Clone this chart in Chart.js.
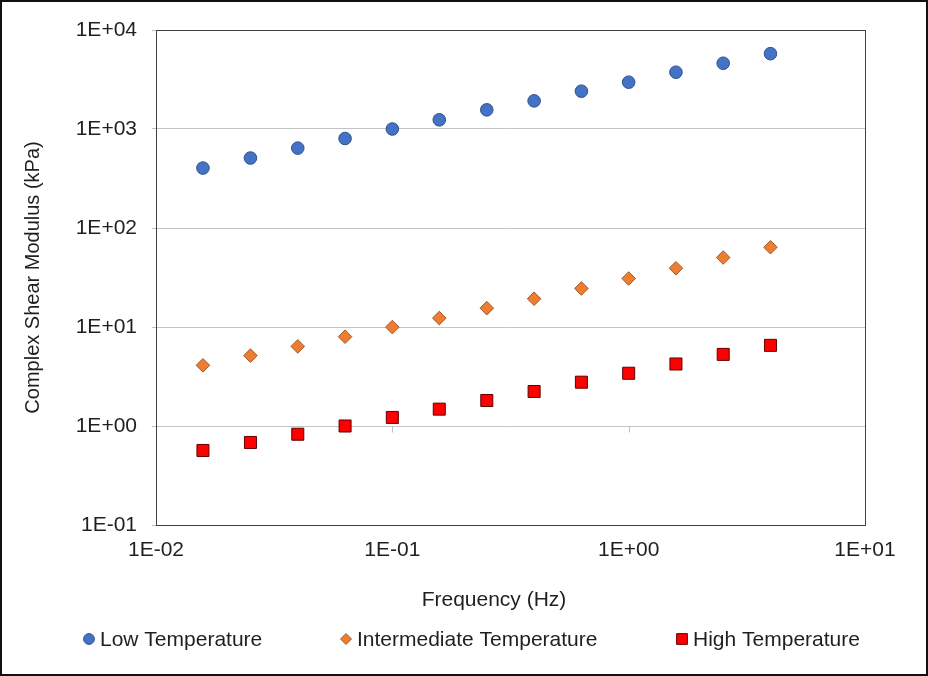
<!DOCTYPE html>
<html>
<head>
<meta charset="utf-8">
<script src="https://cdn.jsdelivr.net/npm/chart.js@4/dist/chart.umd.min.js"></script>
<style>
  html, body { margin: 0; padding: 0; background: #ffffff; }
  #wrap { width: 928px; height: 676px; }
</style>
</head>
<body>
<div id="wrap"><canvas id="c" width="928" height="676"></canvas></div>
<script>
// ---- Data ----
const frequencies = [0.0158, 0.0251, 0.0398, 0.0631, 0.1, 0.158, 0.251, 0.398, 0.631, 1.0, 1.585, 2.512, 3.981];
const lowTemperature = [403, 509, 641, 802, 1000, 1238, 1562, 1923, 2410, 2970, 3748, 4617, 5768];
const intermediateTemperature = [4.10, 5.14, 6.37, 7.98, 9.98, 12.3, 15.5, 19.3, 24.5, 30.9, 39.2, 50.3, 63.9];
const highTemperature = [0.566, 0.682, 0.826, 1.0, 1.22, 1.48, 1.81, 2.23, 2.77, 3.41, 4.23, 5.29, 6.53];
const seriesNames = ['Low Temperature', 'Intermediate Temperature', 'High Temperature'];
const xTickValues = [0.01, 0.1, 1, 10];
const xTickLabels = ['1E-02', '1E-01', '1E+00', '1E+01'];
const yTickValues = [0.1, 1, 10, 100, 1000, 10000];
const yTickLabels = ['1E-01', '1E+00', '1E+01', '1E+02', '1E+03', '1E+04'];
const xTitle = 'Frequency (Hz)';
const yTitle = 'Complex Shear Modulus (kPa)';

const FONT = '"Liberation Sans", Arial, Helvetica, sans-serif';
const TEXT = '#1f1f1f';

function pts(ys) { return frequencies.map((f, i) => ({ x: f, y: ys[i] })); }

const frameAndExtras = {
  id: 'frameAndExtras',
  beforeDatasetsDraw(chart) {
    const ctx = chart.ctx, a = chart.chartArea;
    const xs = chart.scales.x, ys = chart.scales.y;
    // small tick marks below the x axis line (crossing at y = 1)
    ctx.save();
    ctx.strokeStyle = '#bfbfbf';
    ctx.lineWidth = 1;
    const y1 = Math.round(ys.getPixelForValue(1)) + 0.5;
    xTickValues.forEach(v => {
      const px = Math.round(xs.getPixelForValue(v)) + 0.5;
      ctx.beginPath(); ctx.moveTo(px, y1); ctx.lineTo(px, y1 + 6); ctx.stroke();
    });
    // plot area border
    ctx.strokeStyle = '#404040';
    ctx.lineWidth = 1;
    ctx.strokeRect(Math.round(a.left) + 0.5, Math.round(a.top) + 0.5,
                   Math.round(a.right - a.left), Math.round(a.bottom - a.top));
    ctx.restore();
  },
  afterDraw(chart) {
    const ctx = chart.ctx;
    // x axis title
    ctx.save();
    ctx.font = '21px ' + FONT;
    ctx.fillStyle = TEXT;
    ctx.textBaseline = 'middle';
    ctx.textAlign = 'center';
    ctx.fillText(xTitle, 494, 600);
    ctx.restore();
    // legend
    const ly = 639;
    const lx = [89, 346, 682];
    const sizes = [5.4, 5.5, 7.6];
    chart.data.datasets.forEach((ds, i) => {
      ctx.save();
      ctx.fillStyle = ds.backgroundColor;
      ctx.strokeStyle = ds.borderColor;
      ctx.lineWidth = 1;
      if (Chart.helpers && Chart.helpers.drawPoint) {
        Chart.helpers.drawPoint(ctx, { pointStyle: ds.pointStyle, radius: sizes[i], rotation: 0, borderWidth: 1 }, lx[i], ly);
      }
      ctx.font = '21px ' + FONT;
      ctx.fillStyle = TEXT;
      ctx.textBaseline = 'middle';
      ctx.textAlign = 'left';
      ctx.fillText(ds.label, lx[i] + 11, ly + 1);
      ctx.restore();
    });
    // outer frame
    ctx.save();
    ctx.strokeStyle = '#111';
    ctx.lineWidth = 2;
    ctx.strokeRect(1, 1, chart.width - 2, chart.height - 2);
    ctx.restore();
  }
};

new Chart(document.getElementById('c'), {
  type: 'scatter',
  data: {
    datasets: [
      { label: seriesNames[0], data: pts(lowTemperature), pointStyle: 'circle', pointRadius: 6.3, pointHoverRadius: 6.3,
        backgroundColor: '#4472C4', borderColor: '#2F528F', borderWidth: 1 },
      { label: seriesNames[1], data: pts(intermediateTemperature), pointStyle: 'rectRot', pointRadius: 6.8, pointHoverRadius: 6.8,
        backgroundColor: '#ED7D31', borderColor: '#9E5A2E', borderWidth: 1 },
      { label: seriesNames[2], data: pts(highTemperature), pointStyle: 'rect', pointRadius: 8.5, pointHoverRadius: 8.5,
        backgroundColor: '#FF0000', borderColor: '#600000', borderWidth: 1 }
    ]
  },
  options: {
    responsive: false,
    animation: false,
    devicePixelRatio: 1,
    layout: { padding: { top: 30, right: 63, bottom: 0, left: 0 } },
    plugins: { legend: { display: false }, tooltip: { enabled: false }, title: { display: false } },
    scales: {
      x: {
        type: 'logarithmic',
        min: 0.01, max: 10,
        afterBuildTicks: s => { s.ticks = xTickValues.map(v => ({ value: v })); },
        afterFit: s => { s.height = 151; },
        grid: { display: false, drawTicks: false },
        border: { display: false },
        ticks: {
          autoSkip: false, maxRotation: 0, minRotation: 0, padding: 13,
          color: TEXT, font: { family: FONT, size: 21 },
          callback: (v, i) => xTickLabels[i]
        },
        title: { display: false, text: xTitle }
      },
      y: {
        type: 'logarithmic',
        min: 0.1, max: 10000,
        afterBuildTicks: s => { s.ticks = yTickValues.map(v => ({ value: v })); },
        afterFit: s => { s.width = 156; },
        grid: { display: true, color: '#c4c4c4', lineWidth: 1, drawTicks: true, tickLength: 4, tickColor: '#bfbfbf' },
        border: { display: false },
        ticks: {
          autoSkip: false, padding: 15,
          color: TEXT, font: { family: FONT, size: 21 },
          callback: (v, i) => yTickLabels[i]
        },
        title: { display: true, text: yTitle, color: TEXT, font: { family: FONT, size: 20 }, padding: { top: 21, bottom: 0 } }
      }
    }
  },
  plugins: [frameAndExtras]
});
</script>
</body>
</html>
